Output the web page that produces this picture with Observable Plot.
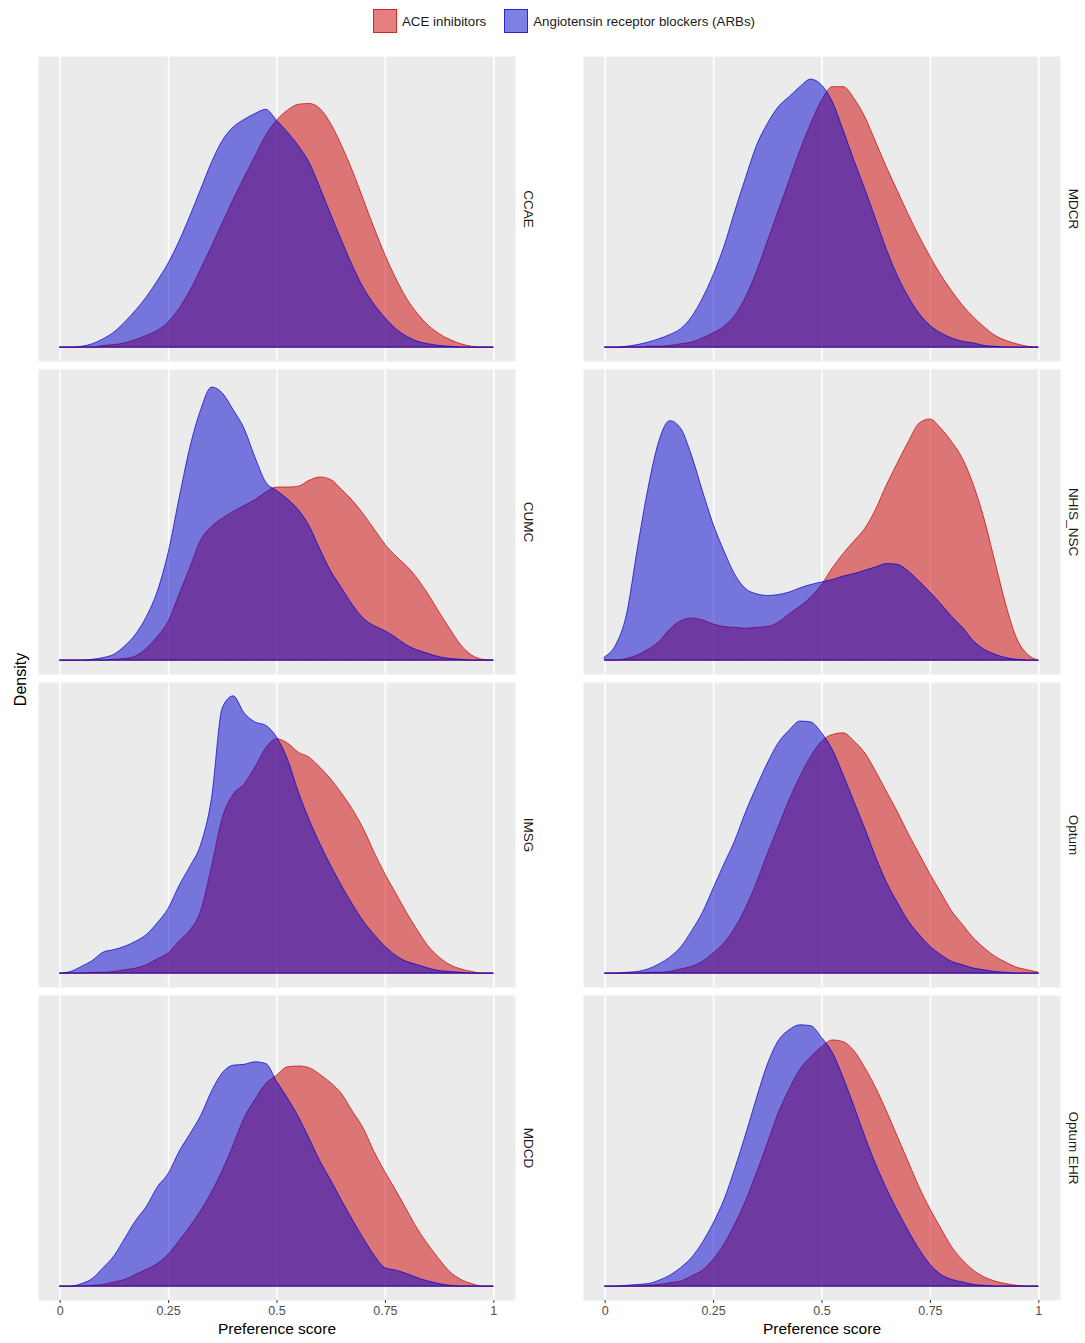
<!DOCTYPE html>
<html>
<head>
<meta charset="utf-8">
<script src="https://cdn.jsdelivr.net/npm/d3@7"></script>
<script src="https://cdn.jsdelivr.net/npm/@observablehq/plot@0.6"></script>
<style>
  html, body { margin: 0; padding: 0; background: #ffffff; }
  body { width: 1085px; height: 1343px; position: relative; overflow: hidden; font-family: "Liberation Sans", Arial, sans-serif; }
  #legend { position: absolute; left: 373px; top: 9px; display: flex; align-items: center; font-size: 13.3px; color: #1a1a1a; height: 24px; }
  #legend .key { display: inline-block; width: 22px; height: 22px; }
  #chart { position: absolute; left: 0; top: 45px; }
</style>
</head>
<body>
<div id="legend"></div>
<div id="chart"></div>
<script>
// ---------------- data ----------------
const databases = ["CCAE", "CUMC", "IMSG", "MDCD", "MDCR", "NHIS_NSC", "Optum", "Optum EHR"];
const seriesNames = ["ACE inhibitors", "Angiotensin receptor blockers (ARBs)"];
const seriesColors = ["#CD0000", "#0000CD"];
const tickValues = [0, 0.25, 0.5, 0.75, 1];
const tickLabels = ["0", "0.25", "0.5", "0.75", "1"];
const score = [0,0.025,0.05,0.075,0.1,0.125,0.15,0.175,0.2,0.225,0.25,0.275,0.3,0.325,0.35,0.375,0.4,0.425,0.45,0.475,0.5,0.525,0.55,0.575,0.6,0.625,0.65,0.675,0.7,0.725,0.75,0.775,0.8,0.825,0.85,0.875,0.9,0.925,0.95,0.975,1];

const ccaeACE = [0,0,0,0,0.02,0.03,0.05,0.09,0.14,0.2,0.3,0.46,0.67,0.93,1.2,1.48,1.76,2.02,2.27,2.52,2.7,2.82,2.89,2.9,2.84,2.66,2.4,2.1,1.76,1.42,1.1,0.82,0.58,0.4,0.26,0.16,0.09,0.04,0.01,0,0];
const ccaeARB = [0,0,0.01,0.04,0.1,0.18,0.3,0.44,0.6,0.79,1.0,1.26,1.56,1.88,2.2,2.46,2.62,2.71,2.78,2.83,2.7,2.56,2.4,2.2,1.9,1.58,1.27,0.97,0.71,0.51,0.35,0.22,0.13,0.07,0.04,0.02,0.01,0,0,0,0];
const cumcACE = [0,0,0,0,0,0.01,0.02,0.05,0.14,0.28,0.46,0.78,1.1,1.43,1.59,1.69,1.77,1.84,1.91,2.0,2.06,2.06,2.07,2.14,2.18,2.15,2.03,1.9,1.74,1.56,1.38,1.24,1.12,0.97,0.78,0.57,0.37,0.18,0.06,0.01,0];
const cumcARB = [0,0,0,0.01,0.03,0.07,0.17,0.31,0.52,0.82,1.28,1.92,2.53,2.98,3.25,3.18,2.98,2.76,2.42,2.12,2.02,1.92,1.79,1.6,1.32,1.06,0.86,0.66,0.5,0.41,0.35,0.27,0.18,0.12,0.08,0.04,0.02,0.01,0,0,0];
const imsgACE = [0,0,0,0.01,0.01,0.02,0.04,0.06,0.1,0.17,0.24,0.38,0.51,0.74,1.27,1.85,2.13,2.25,2.45,2.68,2.79,2.74,2.63,2.57,2.45,2.31,2.14,1.95,1.72,1.44,1.18,0.95,0.72,0.51,0.32,0.19,0.1,0.05,0.02,0,0];
const imsgARB = [0,0.02,0.08,0.15,0.25,0.28,0.32,0.38,0.46,0.6,0.77,1.04,1.27,1.53,2.08,3.16,3.3,3.1,2.99,2.95,2.81,2.55,2.16,1.83,1.54,1.28,1.04,0.82,0.62,0.46,0.32,0.21,0.14,0.1,0.06,0.03,0.02,0.01,0,0,0];
const mdcdACE = [0,0,0,0.01,0.02,0.05,0.08,0.14,0.2,0.27,0.38,0.54,0.71,0.9,1.12,1.38,1.68,2.0,2.22,2.41,2.51,2.61,2.62,2.6,2.52,2.42,2.29,2.08,1.88,1.6,1.36,1.14,0.91,0.68,0.49,0.32,0.17,0.08,0.03,0,0];
const mdcdARB = [0,0,0.03,0.09,0.22,0.36,0.57,0.78,0.95,1.18,1.34,1.6,1.81,2.03,2.32,2.54,2.63,2.64,2.67,2.65,2.44,2.24,2.02,1.76,1.49,1.26,1.02,0.79,0.57,0.37,0.22,0.19,0.15,0.1,0.06,0.03,0.01,0,0,0,0];
const mdcrACE = [0,0,0,0,0.01,0.01,0.02,0.04,0.06,0.11,0.17,0.25,0.38,0.6,0.9,1.26,1.62,1.98,2.34,2.66,2.94,3.1,3.1,2.96,2.74,2.44,2.14,1.86,1.58,1.32,1.08,0.86,0.67,0.5,0.36,0.24,0.14,0.08,0.04,0.01,0];
const mdcrARB = [0,0,0.01,0.03,0.06,0.1,0.15,0.22,0.36,0.58,0.86,1.2,1.62,2.02,2.4,2.66,2.86,2.98,3.1,3.19,3.12,2.92,2.58,2.22,1.88,1.52,1.16,0.85,0.6,0.4,0.26,0.17,0.11,0.07,0.05,0.02,0.01,0,0,0,0];
const nhisACE = [0,0,0.02,0.06,0.13,0.22,0.37,0.47,0.5,0.48,0.43,0.4,0.39,0.38,0.39,0.4,0.45,0.55,0.64,0.75,0.9,1.1,1.27,1.42,1.57,1.8,2.09,2.35,2.6,2.82,2.87,2.76,2.6,2.4,2.09,1.68,1.17,0.66,0.26,0.07,0];
const nhisARB = [0.04,0.18,0.54,1.32,2.05,2.61,2.85,2.76,2.44,2.02,1.62,1.3,1.02,0.85,0.79,0.77,0.78,0.81,0.86,0.9,0.93,0.96,1.0,1.03,1.07,1.11,1.15,1.14,1.06,0.94,0.81,0.67,0.52,0.39,0.23,0.13,0.07,0.03,0.01,0,0];
const optumACE = [0,0,0,0,0.01,0.01,0.02,0.05,0.08,0.14,0.24,0.36,0.54,0.78,1.08,1.42,1.74,2.06,2.34,2.58,2.76,2.84,2.86,2.76,2.62,2.4,2.16,1.92,1.66,1.42,1.18,0.96,0.74,0.58,0.42,0.3,0.2,0.13,0.07,0.04,0.01];
const optumARB = [0,0,0.01,0.02,0.05,0.11,0.19,0.31,0.5,0.72,1.01,1.3,1.58,1.92,2.22,2.5,2.74,2.89,3.0,2.99,2.86,2.66,2.36,2.04,1.72,1.38,1.08,0.84,0.62,0.46,0.32,0.22,0.14,0.1,0.06,0.04,0.02,0.01,0,0,0];
const optumEhrACE = [0,0,0,0,0.01,0.02,0.04,0.06,0.12,0.19,0.32,0.5,0.74,1.02,1.35,1.7,2.06,2.34,2.58,2.73,2.85,2.93,2.91,2.8,2.6,2.36,2.08,1.78,1.48,1.18,0.92,0.69,0.47,0.31,0.19,0.11,0.06,0.03,0.01,0,0];
const optumEhrARB = [0,0,0.01,0.02,0.03,0.07,0.13,0.22,0.34,0.52,0.75,1.03,1.4,1.81,2.24,2.64,2.92,3.05,3.11,3.1,2.96,2.78,2.48,2.14,1.78,1.45,1.16,0.9,0.66,0.44,0.26,0.14,0.08,0.05,0.02,0.01,0,0,0,0,0];

const aceByDb = [ccaeACE, cumcACE, imsgACE, mdcdACE, mdcrACE, nhisACE, optumACE, optumEhrACE];
const arbByDb = [ccaeARB, cumcARB, imsgARB, mdcdARB, mdcrARB, nhisARB, optumARB, optumEhrARB];

// ---------------- build tables ----------------
function rowsFor(arrays, series) {
  const out = [];
  databases.forEach((db, i) => {
    arrays[i].forEach((d, j) => {
      out.push({db, col: Math.floor(i / 4), row: i % 4, series, score: score[j], density: d});
    });
  });
  return out;
}
const aceRows = rowsFor(aceByDb, seriesNames[0]);
const arbRows = rowsFor(arbByDb, seriesNames[1]);
const panels = databases.map((db, i) => ({db, col: Math.floor(i / 4), row: i % 4}));
const bottomPanels = panels.filter(p => p.row === 3);
const tickRows = bottomPanels.flatMap(p => tickValues.map((v, k) => ({col: p.col, row: p.row, value: v, label: tickLabels[k]})));
const maxDensity = d3.max([...aceRows, ...arbRows], d => d.density);

// ---------------- legend ----------------
const legend = document.getElementById("legend");
seriesNames.forEach((name, i) => {
  const key = document.createElement("span");
  key.className = "key";
  const c = d3.color(seriesColors[i]);
  key.style.background = `rgba(${c.r},${c.g},${c.b},0.5)`;
  key.style.border = `1px solid rgba(${c.r},${c.g},${c.b},0.7)`;
  const label = document.createElement("span");
  label.textContent = name;
  label.style.marginLeft = "5px";
  label.style.marginRight = i === 0 ? "18px" : "0";
  legend.appendChild(key);
  legend.appendChild(label);
});

// ---------------- plot ----------------
const fontFamily = "'Liberation Sans', Arial, Helvetica, sans-serif";
const areaOpts = (color) => ({
  x: "score", y: "density", fx: "col", fy: "row",
  curve: "monotone-x",
  fill: color, fillOpacity: 0.5,
  stroke: color, strokeOpacity: 0.7, strokeWidth: 1
});

const chart = Plot.plot({
  width: 1085,
  height: 1298,
  marginLeft: 38,
  marginRight: 25,
  marginTop: 11,
  marginBottom: 43,
  style: {fontFamily, background: "white", overflow: "visible"},
  x: {domain: [-0.05, 1.05]},
  y: {domain: [-0.05 * maxDensity, 1.05 * maxDensity], axis: null},
  fx: {domain: [0, 1], axis: null, paddingInner: 68 / 545, paddingOuter: 0},
  fy: {domain: [0, 1, 2, 3], axis: null, paddingInner: 8 / 313, paddingOuter: 0},
  marks: [
    Plot.frame({fill: "#EBEBEB", stroke: null}),
    Plot.gridX(tickValues, {stroke: "white", strokeOpacity: 1, strokeWidth: 1.6}),
    Plot.axisX(tickValues, {
      tickFormat: () => "", tickSize: 3, stroke: "#333333", label: null
    }),
    Plot.text(tickRows, {
      x: "value", fx: "col", fy: "row", text: "label",
      frameAnchor: "bottom", dy: 14, fontSize: 12.5, fill: "#4D4D4D"
    }),
    Plot.areaY(aceRows, areaOpts(seriesColors[0])),
    Plot.areaY(arbRows, areaOpts(seriesColors[1])),
    Plot.text(panels, {
      fx: "col", fy: "row", text: "db",
      frameAnchor: "right", dx: 13, rotate: 90,
      textAnchor: "middle", lineAnchor: "middle",
      fontSize: 13.5, fill: "#1A1A1A"
    }),
    Plot.text(bottomPanels, {
      fx: "col", fy: "row", text: () => "Preference score",
      frameAnchor: "bottom", dy: 33, fontSize: 15.5, fill: "#000000"
    }),
    Plot.text(panels.filter(p => p.col === 0 && p.row === 1), {
      fx: "col", fy: "row", text: () => "Density",
      frameAnchor: "bottom-left", dx: -18, dy: 5, rotate: -90,
      textAnchor: "middle", lineAnchor: "middle",
      fontSize: 16, fill: "#000000"
    })
  ]
});
document.getElementById("chart").appendChild(chart);
</script>
</body>
</html>
